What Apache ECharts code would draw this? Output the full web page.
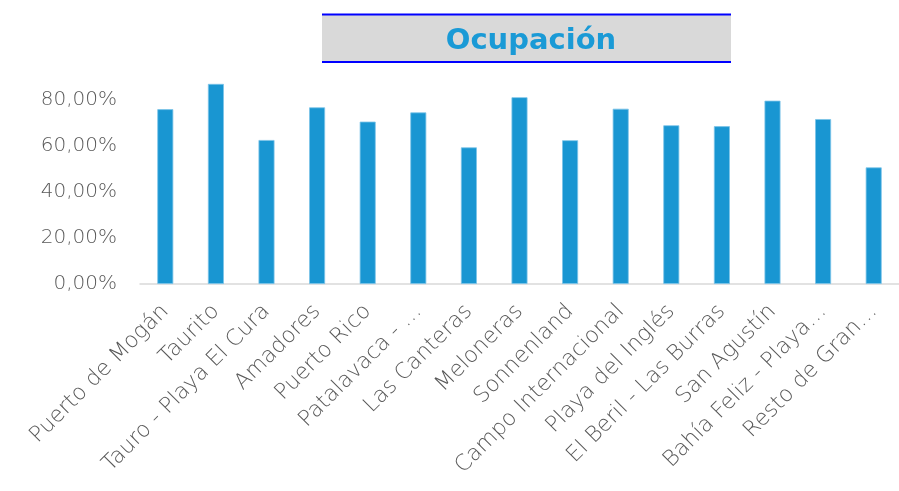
<!DOCTYPE html>
<html>
<head>
<meta charset="utf-8">
<script src="https://cdn.jsdelivr.net/npm/echarts@6/dist/echarts.min.js"></script>
<style>
    html, body { margin: 0; padding: 0; background: #fff; }
    #chart { width: 899px; height: 491px; }
</style>
</head>
<body>
<div id="chart"></div>
<script>
    // zonas turísticas
    let categories = [
        'Puerto de Mogán', 'Taurito', 'Tauro - Playa El Cura', 'Amadores', 'Puerto Rico',
        'Patalavaca - …', 'Las Canteras', 'Meloneras', 'Sonnenland', 'Campo Internacional',
        'Playa del Inglés', 'El Beril - Las Burras', 'San Agustín', 'Bahía Feliz - Playa…', 'Resto de Gran…'
    ];
    // ocupación en %
    let ocupacion = [76.0, 87.0, 62.6, 76.8, 70.6, 74.6, 59.4, 81.2, 62.5, 76.2, 69.0, 68.6, 79.7, 71.7, 50.7];
    let yTicks = [0, 20, 40, 60, 80];

    let CHART = echarts.init(document.getElementById('chart'));
    let font = '"DejaVu Sans", sans-serif';

    CHART.setOption({
        animation: false,
        title: {
            text: 'Ocupación',
            left: 526,
            top: 22,
            textAlign: 'center',
            textStyle: {
                color: '#1a9ad6',
                fontSize: 29,
                fontWeight: 'bold',
                fontFamily: font
            }
        },
        graphic: [
            { type: 'rect', shape: { x: 322, y: 14, width: 409, height: 48 }, style: { fill: '#d9d9d9' }, z: -1 },
            { type: 'line', shape: { x1: 322, y1: 14.5, x2: 731, y2: 14.5 }, style: { stroke: '#0000ff', lineWidth: 2 } },
            { type: 'line', shape: { x1: 322, y1: 62, x2: 731, y2: 62 }, style: { stroke: '#0000ff', lineWidth: 2 } }
        ],
        grid: {
            left: 140,
            top: 77,
            width: 764,
            height: 207,
            containLabel: false
        },
        xAxis: {
            type: 'category',
            data: categories,
            axisLine: { show: true, lineStyle: { color: '#d9d9d9', width: 1.5 } },
            axisTick: { show: false },
            axisLabel: {
                interval: 0,
                rotate: 45,
                margin: 24,
                color: '#595959',
                fontSize: 22,
                fontWeight: 200,
                fontFamily: font
            }
        },
        yAxis: {
            type: 'value',
            min: 0,
            max: 90,
            interval: 20,
            splitLine: { show: false },
            axisLine: { show: false },
            axisTick: { show: false },
            axisLabel: {
                margin: 23,
                color: '#595959',
                fontSize: 20,
                fontWeight: 200,
                fontFamily: font,
                formatter: function (v) {
                    return yTicks.indexOf(v) >= 0 ? v.toFixed(2).replace('.', ',') + '%' : '';
                }
            }
        },
        series: [{
            type: 'bar',
            data: ocupacion,
            barWidth: 16,
            itemStyle: {
                color: '#1996d2',
                borderColor: '#7cc4e8',
                borderWidth: 0.8
            }
        }]
    });
</script>
</body>
</html>
